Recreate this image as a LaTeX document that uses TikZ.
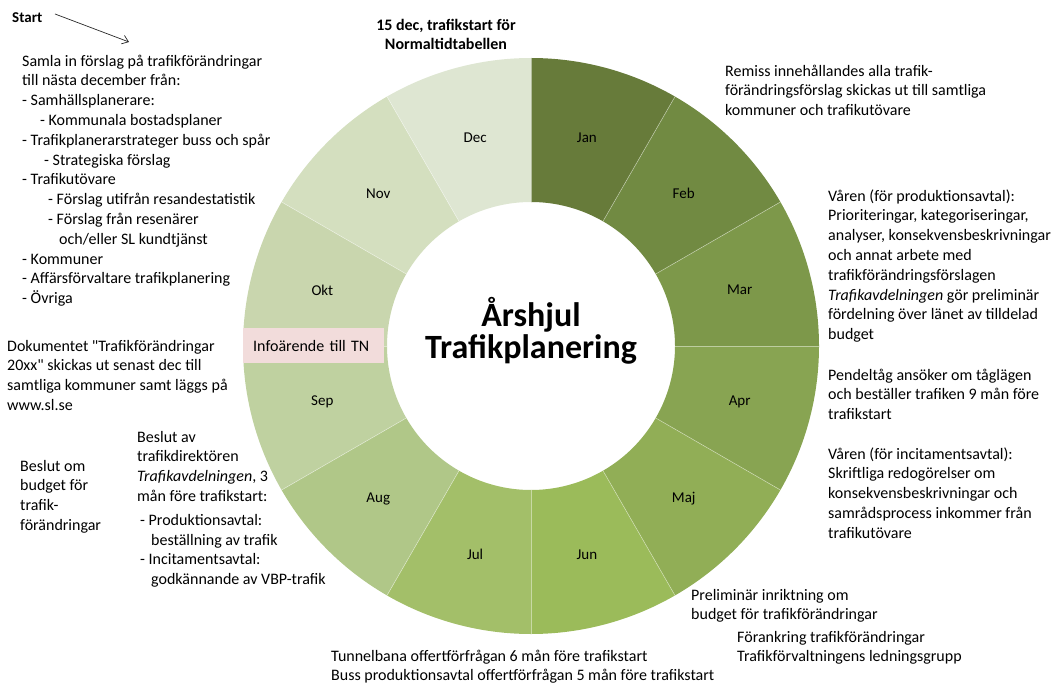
\documentclass[tikz,border=0pt]{standalone}
\usepackage{fontspec}
\setmainfont{Carlito}
\newfontfamily\rawfont{Carlito}[Ligatures=TeXOff]
\usetikzlibrary{arrows.meta}
\definecolor{cJan}{RGB}{103,123,58}
\definecolor{cFeb}{RGB}{113,138,66}
\definecolor{cMar}{RGB}{125,152,74}
\definecolor{cApr}{RGB}{136,164,82}
\definecolor{cMaj}{RGB}{145,174,86}
\definecolor{cJun}{RGB}{155,187,90}
\definecolor{cJul}{RGB}{163,191,105}
\definecolor{cAug}{RGB}{176,199,136}
\definecolor{cSep}{RGB}{191,209,160}
\definecolor{cOkt}{RGB}{201,214,174}
\definecolor{cNov}{RGB}{212,223,191}
\definecolor{cDec}{RGB}{222,230,210}
\definecolor{infopink}{RGB}{242,220,219}
\definecolor{arrowgray}{RGB}{40,40,40}
\begin{document}
\begin{tikzpicture}[x=1pt,y=1pt,
  txt/.style={anchor=north west, inner sep=0pt, align=left, font=\fontsize{16}{19.8}\selectfont},
  month/.style={font=\fontsize{15}{18}\selectfont},
  titlefont/.style={font=\bfseries\fontsize{34}{40}\selectfont, anchor=base, inner sep=0pt},
  sepline/.style={white, opacity=0.45, line width=0.6pt},
  arrowline/.style={arrowgray, line width=0.7pt, -{Straight Barb[length=6pt,width=9pt]}}]
\useasboundingbox (0,0) rectangle (1064,-692);
\coordinate (c) at (531,-346);
% ring segments
\foreach \a/\col/\m in {90/cJan/Jan,60/cFeb/Feb,30/cMar/Mar,0/cApr/Apr,-30/cMaj/Maj,-60/cJun/Jun,-90/cJul/Jul,-120/cAug/Aug,-150/cSep/Sep,-180/cOkt/Okt,-210/cNov/Nov,-240/cDec/Dec}{
  \pgfmathsetmacro\b{\a-30}
  \fill[\col] ([shift={(\a:144)}]c) -- ([shift={(\a:288)}]c) arc[start angle=\a, end angle=\b, radius=288] -- ([shift={(\b:144)}]c) arc[start angle=\b, end angle=\a, radius=144] -- cycle;
}
\foreach \a in {90,60,30,0,-30,-60,-90,-120,-150,-180,-210,-240}{
  \draw[sepline] ([shift={(\a:144)}]c) -- ([shift={(\a:288)}]c);
}
\foreach \a/\m in {90/Jan,60/Feb,30/Mar,0/Apr,-30/Maj,-60/Jun,-90/Jul,-120/Aug,-150/Sep,-180/Okt,-210/Nov,-240/Dec}{
  \pgfmathsetmacro\mid{\a-15}
  \node[month] (m\m) at ([shift={(\mid:216)}]c) {\m};
}
% Infoärende box
\node[fill=infopink, anchor=north west, minimum width=141pt, minimum height=35pt, inner xsep=10pt, inner ysep=0pt, text width=121pt, align=left, font=\fontsize{16}{19.8}\selectfont] (info) at (243,-328) {Infoärende till TN};
% centre title
\node[titlefont] (t1) at (531,-326) {Årshjul};
\node[titlefont] (t2) at (531,-358) {Trafikplanering};
% start
\node[font=\bfseries\fontsize{15}{18}\selectfont, anchor=base west, inner sep=0pt] (start) at (12,-23) {Start};
\coordinate (a0) at (55,-14);
\coordinate (a1) at (129,-42);
\draw[arrowline] (a0) -- (a1);
% top caption
\node[anchor=north, inner sep=0pt, align=center, font=\bfseries\fontsize{16}{19.8}\selectfont] (dec15) at (446,-16) {\strut 15 dec, trafikstart för\\Normaltidtabellen};
% left texts
\node[txt] (samla) at (22,-52) {\strut Samla in förslag på trafikförändringar\\
till nästa december från:\\
- Samhällsplanerare:\\
\hspace*{18pt}- Kommunala bostadsplaner\\
- Trafikplanerarstrateger buss och spår\\
\hspace*{22pt}- Strategiska förslag\\
- Trafikutövare\\
\hspace*{26pt}- Förslag utifrån resandestatistik\\
\hspace*{26pt}- Förslag från resenärer\\
\hspace*{37pt}och/eller SL kundtjänst\\
- Kommuner\\
- Affärsförvaltare trafikplanering\\
- Övriga};
\node[txt] (dok) at (7,-337) {\strut Dokumentet {\rawfont"}Trafikförändringar\\
20xx{\rawfont"} skickas ut senast dec till\\
samtliga kommuner samt läggs på\\
www.sl.se};
\node[txt] (beslutom) at (20,-457) {\strut Beslut om\\
budget för\\
trafik-\\
förändringar};
\node[txt] (beslutav) at (137,-428) {\strut Beslut av\\
trafikdirektören\\
\textit{Trafikavdelningen}, 3\\
mån före trafikstart:\\[4pt]
\hspace*{3pt}- Produktionsavtal:\\
\hspace*{14pt}beställning av trafik\\
\hspace*{3pt}- Incitamentsavtal:\\
\hspace*{14pt}godkännande av VBP-trafik};
% right texts
\node[txt] (remiss) at (725,-62) {\strut Remiss innehållandes alla trafik-\\
förändringsförslag skickas ut till samtliga\\
kommuner och trafikutövare};
\node[txt] (varenprod) at (828,-187) {\strut Våren (för produktionsavtal):\\
Prioriteringar, kategoriseringar,\\
analyser, konsekvensbeskrivningar\\
och annat arbete med\\
trafikförändringsförslagen\\
\textit{Trafikavdelningen} gör preliminär\\
fördelning över länet av tilldelad\\
budget};
\node[txt] (pendel) at (828,-366) {\strut Pendeltåg ansöker om tåglägen\\
och beställer trafiken 9 mån före\\
trafikstart};
\node[txt] (vareninc) at (828,-445) {\strut Våren (för incitamentsavtal):\\
Skriftliga redogörelser om\\
konsekvensbeskrivningar och\\
samrådsprocess inkommer från\\
trafikutövare};
\node[txt] (prelim) at (691,-586) {\strut Preliminär inriktning om\\
budget för trafikförändringar};
\node[txt] (forank) at (737,-628) {\strut Förankring trafikförändringar\\
Trafikförvaltningens ledningsgrupp};
\node[txt] (tunnel) at (331,-647) {\strut Tunnelbana offertförfrågan 6 mån före trafikstart\\
Buss produktionsavtal offertförfrågan 5 mån före trafikstart};
\end{tikzpicture}
\end{document}
